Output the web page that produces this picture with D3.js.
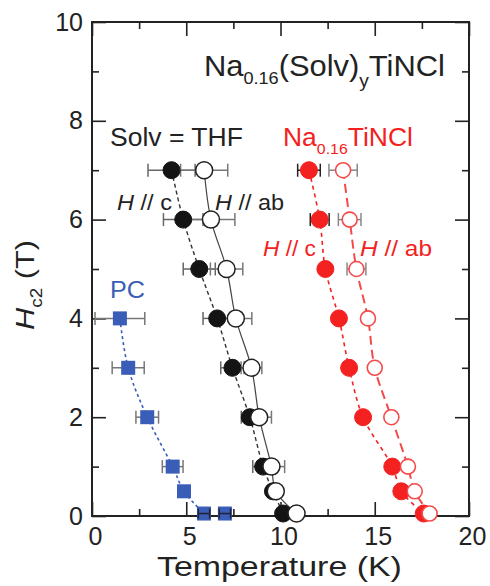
<!DOCTYPE html>
<html><head><meta charset="utf-8">
<script src="https://cdn.jsdelivr.net/npm/d3@7"></script>
<style>
body{margin:0;background:#fff;}
svg{display:block;font-family:"Liberation Sans",Arial,Helvetica,sans-serif;}
</style></head>
<body><svg id="c" width="490" height="586"></svg>
<script>
// ---- data ----
const xTicksMajor = [0, 5, 10, 15, 20];
const xTicksMinor = [2.5, 7.5, 12.5, 17.5];
const yTicksMajor = [0, 2, 4, 6, 8, 10];
const yTicksMinor = [1, 3, 5, 7, 9];

// Solv = THF
const thfH    = [7, 6, 5, 4, 3, 2, 1, 0.5, 0.05];
const thfTc   = [4.22, 4.84, 5.69, 6.64, 7.45, 8.37, 9.08, 9.60, 10.14];
const thfTab  = [5.95, 6.31, 7.14, 7.63, 8.46, 8.87, 9.52, 9.75, 10.85];
const thfCErr = [1.25, 1.05, 0.85, 0.75, 0.62, 0.45, 0.55, 0, 0.2];
const thfAbErr= [1.25, 1.27, 0.86, 0.85, 0.55, 0.65, 0.7, 0, 0.2];

// Na0.16TiNCl
const naH     = [7, 6, 5, 4, 3, 2, 1, 0.5, 0.05];
const naTc    = [11.51, 12.08, 12.38, 13.1, 13.64, 14.38, 15.93, 16.41, 17.6];
const naTab   = [13.32, 13.67, 14.03, 14.64, 15.0, 15.88, 16.76, 17.12, 17.91];
const naCErr  = [0.6, 0.5, 0, 0, 0, 0, 0, 0, 0];
const naAbErr = [0.75, 0.6, 0.5, 0, 0, 0, 0, 0, 0];

// PC
const pcH   = [4, 3, 2, 1, 0.5, 0.05, 0.05];
const pcT   = [1.48, 1.92, 2.93, 4.28, 4.88, 5.94, 7.05];
const pcErr = [1.32, 0.85, 0.6, 0.55, 0, 0.3, 0.3];

// ---- layout ----
const svg = d3.select("#c");
const L = 92, R = 469, T = 22, B = 516;
const x = d3.scaleLinear().domain([0, 20]).range([L, R]);
const y = d3.scaleLinear().domain([0, 10]).range([B, T]);
const axisCol = "#222";
const red = "#f42121", redLight = "#f54a4a", blue = "#3a5db8";

// axes
function styleAxis(g, fs) {
  g.select(".domain").remove();
  g.selectAll(".tick line").attr("stroke", axisCol).attr("stroke-width", 1.6);
  g.selectAll("text").attr("fill", "#222").style("font-size", fs + "px")
    .style("font-family", '"Liberation Sans",Arial,sans-serif');
}
svg.append("g").attr("transform", `translate(0,${B})`)
  .call(d3.axisBottom(x).tickValues(xTicksMajor).tickSize(-14).tickPadding(11).tickFormat(d3.format("d")))
  .call(g => styleAxis(g, 25))
  .call(g => g.selectAll("text").attr("dx", 3));
svg.append("g").attr("transform", `translate(0,${B})`)
  .call(d3.axisBottom(x).tickValues(xTicksMinor).tickSize(-7).tickFormat(""))
  .call(g => styleAxis(g, 25));
svg.append("g").attr("transform", `translate(0,${T})`)
  .call(d3.axisTop(x).tickValues(xTicksMajor).tickSize(-14).tickFormat(""))
  .call(g => styleAxis(g, 25));
svg.append("g").attr("transform", `translate(0,${T})`)
  .call(d3.axisTop(x).tickValues(xTicksMinor).tickSize(-7).tickFormat(""))
  .call(g => styleAxis(g, 25));
svg.append("g").attr("transform", `translate(${L},0)`)
  .call(d3.axisLeft(y).tickValues(yTicksMajor).tickSize(-14).tickPadding(9).tickFormat(d3.format("d")))
  .call(g => styleAxis(g, 25));
svg.append("g").attr("transform", `translate(${L},0)`)
  .call(d3.axisLeft(y).tickValues(yTicksMinor).tickSize(-7).tickFormat(""))
  .call(g => styleAxis(g, 25));
svg.append("g").attr("transform", `translate(${R},0)`)
  .call(d3.axisRight(y).tickValues(yTicksMajor).tickSize(-14).tickFormat(""))
  .call(g => styleAxis(g, 25));
svg.append("g").attr("transform", `translate(${R},0)`)
  .call(d3.axisRight(y).tickValues(yTicksMinor).tickSize(-7).tickFormat(""))
  .call(g => styleAxis(g, 25));
svg.append("rect").attr("x", L).attr("y", T).attr("width", R - L).attr("height", B - T)
  .attr("fill", "none").attr("stroke", axisCol).attr("stroke-width", 2);

// helpers
const zip = (hs, ts, es) => hs.map((h, i) => ({h, t: ts[i], e: es ? es[i] : 0}));
const line = d3.line().x(d => x(d.t)).y(d => y(d.h)).curve(d3.curveCatmullRom.alpha(0.5));

function errBars(data, col, cap = 6.5) {
  const g = svg.append("g").attr("stroke", col).attr("stroke-width", 1.5);
  data.filter(d => d.e > 0).forEach(d => {
    g.append("line").attr("x1", x(d.t - d.e)).attr("x2", x(d.t + d.e)).attr("y1", y(d.h)).attr("y2", y(d.h));
    [d.t - d.e, d.t + d.e].forEach(v =>
      g.append("line").attr("x1", x(v)).attr("x2", x(v)).attr("y1", y(d.h) - cap).attr("y2", y(d.h) + cap));
  });
}
function path(data, col, w, dash) {
  svg.append("path").datum(data).attr("d", line).attr("fill", "none")
    .attr("stroke", col).attr("stroke-width", w).attr("stroke-dasharray", dash);
}
function circles(data, fill, stroke, r, sw) {
  svg.append("g").selectAll("circle").data(data).join("circle")
    .attr("cx", d => x(d.t)).attr("cy", d => y(d.h)).attr("r", r)
    .attr("fill", fill).attr("stroke", stroke).attr("stroke-width", sw);
}

const thfC = zip(thfH, thfTc, thfCErr), thfAb = zip(thfH, thfTab, thfAbErr);
const naC = zip(naH, naTc, naCErr), naAb = zip(naH, naTab, naAbErr);
const pc = zip(pcH, pcT, pcErr);

// lines
path(thfC, "#333", 1.4, "4,3");
path(thfAb, "#444", 1.2, null);
path(naC, red, 1.6, "4,4");
path(naAb, redLight, 2, "9,5");
path(pc.slice(0, 6), blue, 1.6, "3,3");

// error bars
errBars(thfC, "#666");
errBars(thfAb, "#777");
errBars(naC, "#222");
errBars(naAb, "#888");
errBars(pc.slice(0, 5), "#777");
errBars(pc.slice(5), "#333", 6);

// markers
circles(thfC, "#141414", "#141414", 8.5, 1);
circles(thfAb, "#fff", "#222", 8.5, 1.5);
circles(naC, red, red, 8.5, 1);
circles(naAb, "#fff", redLight, 7.5, 1.6);
svg.append("g").selectAll("rect").data(pc).join("rect")
  .attr("x", d => x(d.t) - 7).attr("y", d => y(d.h) - 7).attr("width", 14).attr("height", 14)
  .attr("fill", blue);
errBars(pc.slice(5), "#223", 5);

// ---- text ----
function fit(t, x0, x1) {
  const bb = t.node().getBBox();
  const s = (x1 - x0) / bb.width;
  t.attr("transform", `translate(${x0 - s * bb.x},0) scale(${s},1)`);
}
function label(parts, baseline, fs, col, x0, x1) {
  const t = svg.append("text").attr("x", 0).attr("y", baseline).attr("fill", col).style("font-size", fs + "px");
  parts.forEach(p => {
    const ts = t.append("tspan").text(p.s);
    if (p.sub) ts.style("font-size", p.sub + "px").attr("dy", p.dy);
    if (p.back) ts.attr("dy", p.back);
    if (p.it) ts.style("font-style", "italic");
  });
  fit(t, x0, x1);
  return t;
}
label([{s: "Na"}, {s: "0.16", sub: 17, dy: 8}, {s: "(Solv)", back: -8}, {s: "y", sub: 18, dy: 11}, {s: "TiNCl", back: -11}],
  76, 29, "#222", 204, 445);
label([{s: "Solv = THF"}], 146, 25, "#222", 110, 243);
label([{s: "Na"}, {s: "0.16", sub: 15, dy: 8}, {s: "TiNCl", back: -8}], 146, 25, red, 283, 413);
label([{s: "H", it: true}, {s: " // c", it: false}], 210, 22, "#222", 117, 172);
label([{s: "H", it: true}, {s: " // ab"}], 210, 22, "#222", 215, 284);
label([{s: "H", it: true}, {s: " // c"}], 256, 22, red, 263, 316);
label([{s: "H", it: true}, {s: " // ab"}], 256, 22, red, 360, 432);
label([{s: "PC"}], 298, 23, blue, 110, 145);
label([{s: "Temperature (K)"}], 576, 28, "#222", 157, 402);

// y title
const yg = svg.append("g").attr("transform", "translate(34,285) rotate(-90)");
const yt = yg.append("text").attr("x", 0).attr("y", 0).attr("text-anchor", "middle")
  .attr("fill", "#222").style("font-size", "26px");
yt.append("tspan").text("H").style("font-style", "italic");
yt.append("tspan").text("c2").style("font-size", "16px").attr("dy", 8);
yt.append("tspan").text(" (T)").attr("dy", -8);
const ybb = yt.node().getBBox();
yt.attr("transform", `scale(${90 / ybb.width},1)`);
</script></body></html>
